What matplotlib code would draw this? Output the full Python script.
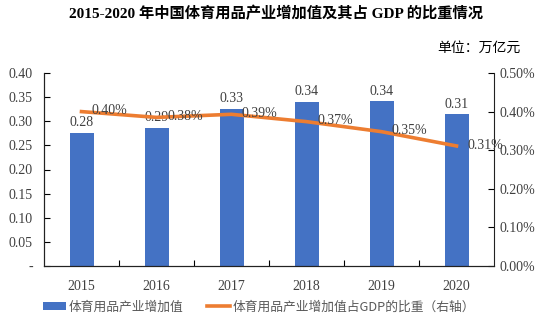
import matplotlib.pyplot as plt
from matplotlib.ticker import FuncFormatter, MultipleLocator

years = ["2015", "2016", "2017", "2018", "2019", "2020"]
value_added = [0.275, 0.287, 0.326, 0.340, 0.341, 0.314]
value_labels = ["0.28", "0.29", "0.33", "0.34", "0.34", "0.31"]
gdp_share = [0.400, 0.385, 0.393, 0.374, 0.348, 0.311]
share_labels = ["0.40%", "0.38%", "0.39%", "0.37%", "0.35%", "0.31%"]

serif = ["Liberation Serif", "Noto Sans CJK SC"]
cjk = ["Noto Sans CJK SC", "DejaVu Sans"]
plt.rcParams["font.family"] = serif
txt = "#404040"

fig = plt.figure(figsize=(5.52, 3.22), dpi=100)
ax = fig.add_axes([44 / 552, 1 - 266 / 322, 450 / 552, 193 / 322])
ax2 = ax.twinx()

x = list(range(len(years)))
bars = ax.bar(x, value_added, width=0.32, color="#4472C4", label="体育用品产业增加值", zorder=2)
line, = ax2.plot(x, gdp_share, color="#ED7D31", lw=2.6, label="体育用品产业增加值占GDP的比重（右轴）", zorder=3)

for xi, v, t in zip(x, value_added, value_labels):
    ax.text(xi, v + 0.008, t, ha="center", va="bottom", fontsize=10, color=txt)
for xi, v, t in zip(x, gdp_share, share_labels):
    ax2.text(xi + 0.14, v + 0.002, t, ha="left", va="center", fontsize=10, color=txt)

ax.set_xlim(-0.5, 5.5)
ax.set_ylim(0, 0.40)
ax2.set_ylim(0, 0.5)
ax.yaxis.set_major_locator(MultipleLocator(0.05))
ax2.yaxis.set_major_locator(MultipleLocator(0.1))
ax.yaxis.set_major_formatter(FuncFormatter(lambda v, p: "-" if abs(v) < 1e-9 else f"{v:.2f}"))
ax2.yaxis.set_major_formatter(FuncFormatter(lambda v, p: f"{v:.2f}%"))

ax.set_xticks([i + 0.5 for i in range(5)], minor=False)
ax.set_xticklabels([])
ax.set_xticks(x, minor=True)
ax.set_xticklabels(years, minor=True)
ax.tick_params(axis="x", which="major", direction="in", length=4)
ax.tick_params(axis="x", which="minor", length=0, pad=10, labelsize=10, labelcolor=txt)
ax.tick_params(axis="y", direction="in", length=4, labelsize=10, pad=8, labelcolor=txt)
ax2.tick_params(axis="y", direction="in", length=4, labelsize=10, pad=4, labelcolor=txt)

for a in (ax, ax2):
    a.spines["top"].set_visible(False)
    for s in ("left", "right", "bottom"):
        a.spines[s].set_color("#222222")
ax.spines["right"].set_visible(False)

fig.text(0.5, 1 - 14 / 322, "2015-2020 年中国体育用品产业增加值及其占 GDP 的比重情况",
         ha="center", va="center", fontsize=11, fontweight="bold", family=serif)
fig.text(521 / 552, 1 - 48 / 322, "单位：万亿元", ha="right", va="center", fontsize=10, family=cjk)

leg = fig.legend(handles=[bars, line], loc="center", bbox_to_anchor=(259 / 552, 1 - 307 / 322),
                 ncol=2, frameon=False, prop={"family": cjk, "size": 9.2},
                 handlelength=1.8, handleheight=0.5, columnspacing=1.8, handletextpad=0.2)
for t in leg.get_texts():
    t.set_color("#595959")

fig.savefig("out.png", dpi=100)
